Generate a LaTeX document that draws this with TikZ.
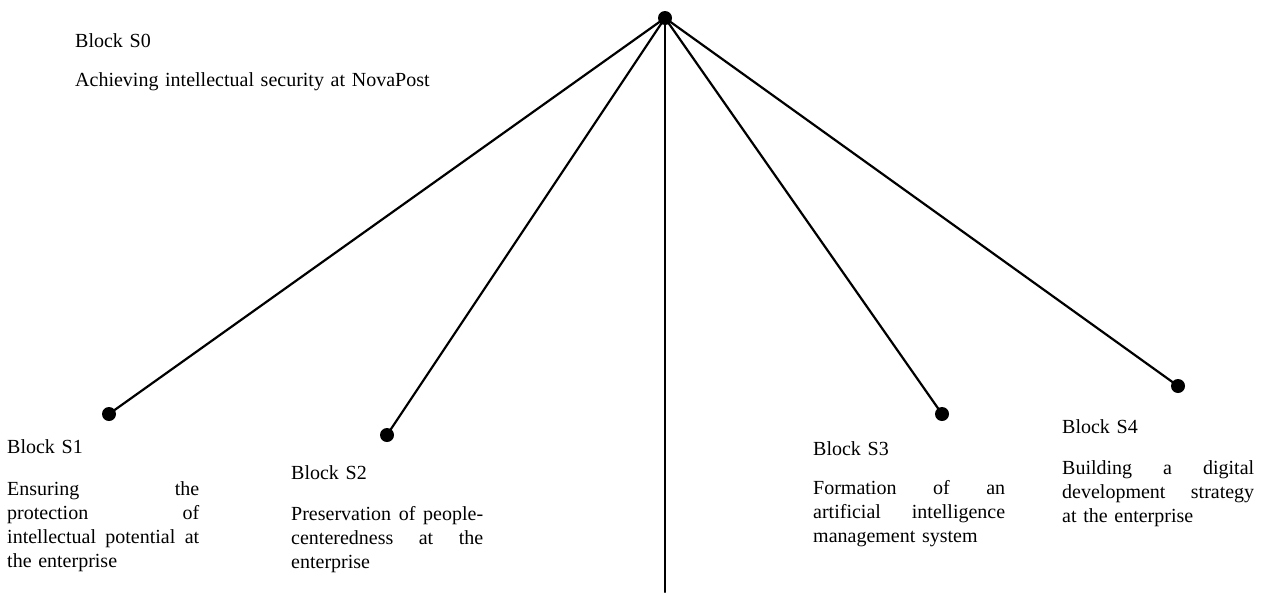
\documentclass[tikz,border=0pt]{standalone}
\usepackage{fontspec}
\setmainfont{Liberation Serif}
% a line stretched to the full block width (interword glue made elastic again)
\newcommand\jl[1]{\makebox[192pt][s]{\spaceskip=0pt\xspaceskip=0pt #1}}
\tikzset{
  dot/.style={circle,fill=black,inner sep=0pt,minimum size=14pt},
  link/.style={line width=2.2pt,line cap=round},
  blocktext/.style={anchor=north west,inner sep=0pt,text width=192pt,align=left,
    font=\fontsize{20}{24}\selectfont},
}
\begin{document}
\begin{tikzpicture}[x=1pt,y=-1pt]
  \useasboundingbox (0,0) rectangle (1267,592);

  % hub and branch points
  \coordinate (top) at (665,18);
  \coordinate (s1) at (109,414);
  \coordinate (s2) at (387,435);
  \coordinate (s3) at (942,414);
  \coordinate (s4) at (1178,386);
  \coordinate (bottom) at (665,592);

  % branches
  \draw[link] (top) -- (s1);
  \draw[link] (top) -- (s2);
  \draw[link] (top) -- (bottom);
  \draw[link] (top) -- (s3);
  \draw[link] (top) -- (s4);

  % branch end dots
  \node[dot] (d0) at (top) {};
  \node[dot] (d1) at (s1) {};
  \node[dot] (d2) at (s2) {};
  \node[dot] (d3) at (s3) {};
  \node[dot] (d4) at (s4) {};

  % block descriptions
  \node[blocktext,text width=420pt] (b0) at (75,30.2)
    {\strut Block S0\\[15pt]Achieving intellectual security at NovaPost};
  \node[blocktext] (b1) at (7,436.2)
    {\strut Block S1\\[18pt]\jl{Ensuring the}\\\jl{protection of}\\\jl{intellectual potential at}\\the enterprise};
  \node[blocktext] (b2) at (291,462.2)
    {\strut Block S2\\[17pt]\jl{Preservation of people-}\\\jl{centeredness at the}\\enterprise};
  \node[blocktext] (b3) at (813,438.2)
    {\strut Block S3\\[15pt]\jl{Formation of an}\\\jl{artificial intelligence}\\management system};
  \node[blocktext] (b4) at (1062,416.2)
    {\strut Block S4\\[17pt]\jl{Building a digital}\\\jl{development strategy}\\at the enterprise};
\end{tikzpicture}
\end{document}
